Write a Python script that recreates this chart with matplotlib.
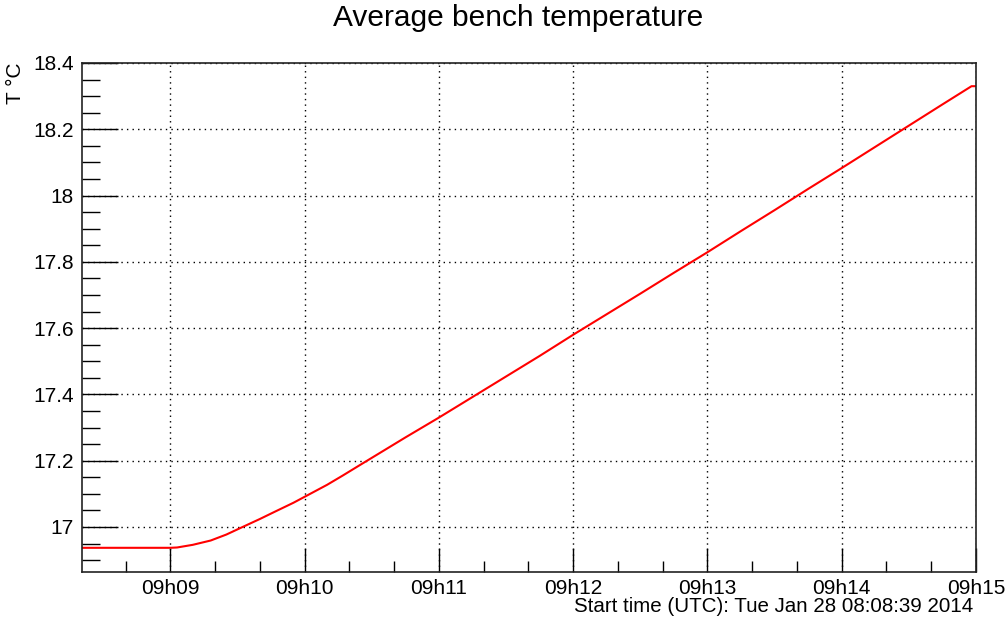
import matplotlib
matplotlib.use('Agg')
import matplotlib.pyplot as plt
import matplotlib.dates as mdates
import matplotlib.ticker as mticker
import numpy as np
import pandas as pd

plt.rcParams['font.family'] = ['Liberation Sans', 'DejaVu Sans']

# readings (local time) and average bench temperature in degC
times = ['09:08:20', '09:09:00', '09:09:03', '09:09:10', '09:09:18', '09:09:25',
         '09:09:32', '09:09:40', '09:09:47', '09:09:55', '09:10:00', '09:10:10',
         '09:10:17', '09:10:25', '09:10:45', '09:11:00', '09:11:15',
         '09:11:30', '09:11:45', '09:12:00', '09:12:15', '09:12:30', '09:12:45',
         '09:13:00', '09:13:15', '09:13:30', '09:13:45', '09:14:00', '09:14:15',
         '09:14:30', '09:14:45', '09:14:58', '09:15:00']
temps = [16.937, 16.937, 16.938, 16.946, 16.959, 16.977,
         16.999, 17.024, 17.047, 17.073, 17.091, 17.127,
         17.155, 17.188, 17.270, 17.330, 17.392,
         17.454, 17.516, 17.580, 17.642, 17.704, 17.767,
         17.829, 17.893, 17.956, 18.020, 18.083, 18.147,
         18.211, 18.275, 18.330, 18.330]

day = '2014-01-28 '
t = pd.to_datetime([day + s for s in times])

fig = plt.figure(figsize=(10.06, 6.21), dpi=100)
ax = fig.add_axes([82/1006, 1 - 572/621, (976 - 82)/1006, (572 - 63)/621])

ax.plot(t, temps, color='red', linewidth=1.5)

ax.set_xlim(pd.Timestamp(day + '09:08:20.5'), pd.Timestamp(day + '09:15:00'))
ax.set_ylim(16.864, 18.4)

ax.xaxis.set_major_locator(mdates.MinuteLocator())
ax.xaxis.set_minor_locator(mdates.SecondLocator(bysecond=[0, 20, 40]))
ax.xaxis.set_major_formatter(mdates.DateFormatter('%Hh%M'))

ax.yaxis.set_major_locator(mticker.MultipleLocator(0.2))
ax.yaxis.set_minor_locator(mticker.MultipleLocator(0.05))
ax.yaxis.set_major_formatter(mticker.FuncFormatter(lambda v, p: '%g' % round(v, 3)))

ax.tick_params(axis='both', which='both', direction='in', top=False, right=False,
               labelsize=15, width=1)
ax.tick_params(axis='y', which='major', length=26, pad=6)
ax.tick_params(axis='y', which='minor', length=13)
ax.tick_params(axis='x', which='major', length=17, pad=5)
ax.tick_params(axis='x', which='minor', length=8)

ax.grid(True, which='major', color='black', linestyle=(0, (1, 3)), linewidth=1)
for s in ax.spines.values():
    s.set_linewidth(1.2)
    s.set_color('#222222')

ax.set_ylabel('T °C', loc='top', fontsize=15, labelpad=6)

fig.text(518/1006, 1 - 18/621, 'Average bench temperature', ha='center', va='center',
         fontsize=21.5)
fig.text(973/1006, 1 - 606/621, 'Start time (UTC): Tue Jan 28 08:08:39 2014',
         ha='right', va='center', fontsize=14.8)

fig.savefig('out.png', dpi=100)
